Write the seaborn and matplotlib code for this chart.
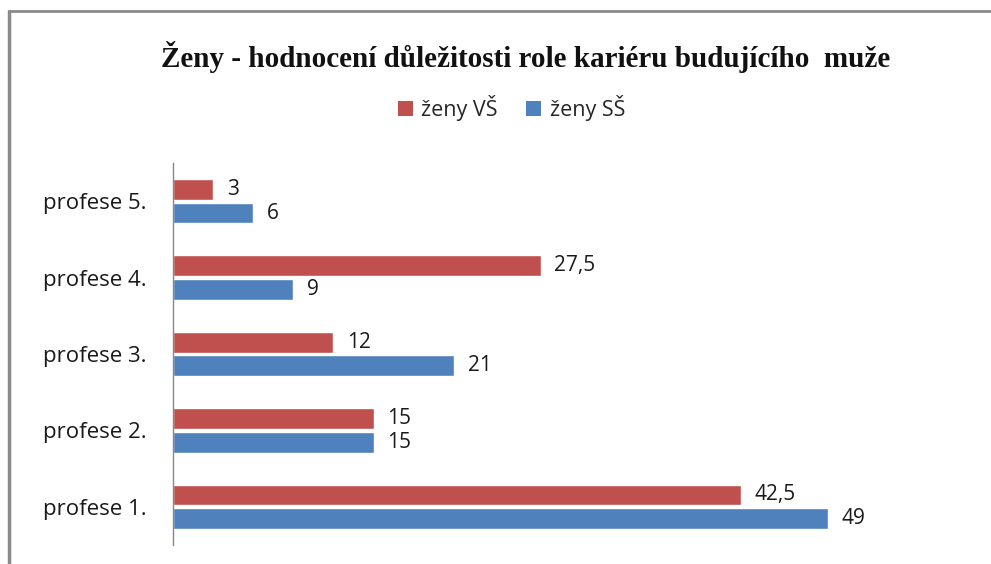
import matplotlib

matplotlib.use("Agg")

import matplotlib.pyplot as plt
import pandas as pd
import seaborn as sns
from matplotlib.lines import Line2D
from matplotlib.patches import Patch

categories = ["profese 5.", "profese 4.", "profese 3.", "profese 2.", "profese 1."]
series_names = ["ženy VŠ", "ženy SŠ"]
values_vs = [3, 27.5, 12, 15, 42.5]
values_ss = [6, 9, 21, 15, 49]
colors = ["#C0504D", "#4F81BD"]

df = pd.DataFrame(
    {
        "kategorie": categories * 2,
        "skupina": [series_names[0]] * 5 + [series_names[1]] * 5,
        "hodnota": values_vs + values_ss,
    }
)

sns.set_style("white")
plt.rcParams["font.family"] = ["Open Sans", "DejaVu Sans"]

fig = plt.figure(figsize=(9.91, 5.64), dpi=100)
ax = fig.add_axes([173 / 991, 19 / 564, 802 / 991, 382 / 564])

sns.barplot(
    data=df,
    y="kategorie",
    x="hodnota",
    hue="skupina",
    order=categories,
    hue_order=series_names,
    palette=colors,
    orient="h",
    width=0.62,
    gap=0.12,
    saturation=1,
    legend=False,
    ax=ax,
)

for container in ax.containers:
    labels = [f"{v:g}".replace(".", ",") for v in container.datavalues]
    ax.bar_label(container, labels=labels, padding=10, fontsize=15, color="#1a1a1a")

ax.set_xlim(0, 60)
ax.set_xlabel("")
ax.set_ylabel("")
ax.set_xticks([])
ax.tick_params(axis="y", length=0, pad=19, labelsize=16, labelcolor="#1a1a1a")
for side in ["top", "right", "bottom"]:
    ax.spines[side].set_visible(False)
ax.spines["left"].set_color("#888888")
ax.spines["left"].set_linewidth(1)

fig.text(
    0.53,
    1 - 57 / 564,
    "Ženy - hodnocení důležitosti role kariéru budujícího  muže",
    ha="center",
    va="center",
    fontsize=21,
    fontweight="bold",
    color="#111111",
    family=["Liberation Serif", "DejaVu Serif"],
)

handles = [Patch(facecolor=c, edgecolor="none") for c in colors]
fig.legend(
    handles,
    series_names,
    loc="center",
    bbox_to_anchor=(0.516, 1 - 108 / 564),
    ncol=2,
    frameon=False,
    fontsize=15.5,
    handlelength=0.7,
    handleheight=0.7,
    handletextpad=0.4,
    columnspacing=1.3,
)

# frame around the chart
fig.add_artist(Line2D([9 / 991, 9 / 991], [0, 1 - 11 / 564], color="#8a8a8a", lw=2.5))
fig.add_artist(Line2D([9 / 991, 1], [1 - 11 / 564, 1 - 11 / 564], color="#8a8a8a", lw=2))

fig.savefig("out.png", dpi=100)
